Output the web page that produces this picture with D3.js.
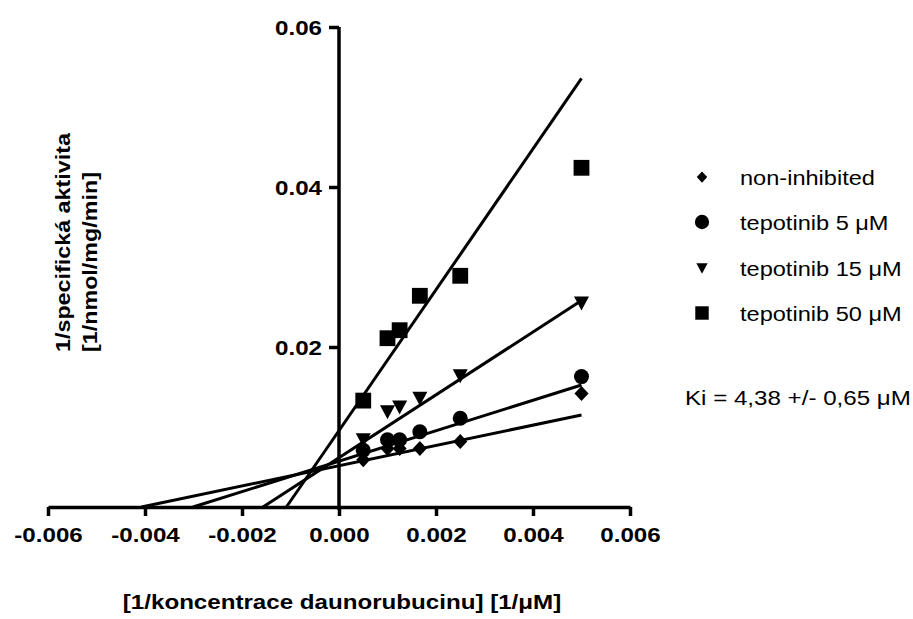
<!DOCTYPE html>
<html>
<head>
<meta charset="utf-8">
<style>
  body { margin: 0; background: #fff; }
  svg { display: block; font-family: "Liberation Sans", Arial, sans-serif; }
  .axis path, .axis line { stroke: #000; stroke-width: 3.5; }
  .fit { stroke: #000; stroke-width: 3; fill: none; }
</style>
<script src="https://cdn.jsdelivr.net/npm/d3@7"></script>
</head>
<body>
<svg id="chart" width="913" height="619"></svg>
<script>
// 1/[S] values (1/uM)
var xVals = [0.0005, 0.001, 0.00125, 0.001667, 0.0025, 0.005];
// 1/specific activity
var nonInhibited = [0.0059, 0.0073, 0.0073, 0.0073, 0.0082, 0.0142];
var tepo5  = [0.0071, 0.0084, 0.0084, 0.0094, 0.0111, 0.0163];
var tepo15 = [0.0084, 0.0119, 0.0125, 0.0136, 0.0164, 0.0255];
var tepo50 = [0.0133, 0.0211, 0.0221, 0.0264, 0.0289, 0.0424];
// linear fits (slope, intercept)
var fitSlopes = [1.267, 1.904, 3.929, 8.805];
var fitIntercepts = [0.00516, 0.00573, 0.00616, 0.00955];

var seriesNames = ["non-inhibited", "tepotinib 5 \u03bcM", "tepotinib 15 \u03bcM", "tepotinib 50 \u03bcM"];
var xTicks = [-0.006, -0.004, -0.002, 0, 0.002, 0.004, 0.006];
var yTicks = [0.02, 0.04, 0.06];
var kiText = "Ki = 4,38 +/- 0,65 \u03bcM";

var stretch = 1.15;
var svg = d3.select("#chart");

var x = d3.scaleLinear().domain([-0.006, 0.006]).range([48, 630]);
var y = d3.scaleLinear().domain([0, 0.06]).range([507, 27]);

// marker shapes
var shapes = [
  function(s) { return "M0," + (-7.5*s) + "L" + (7*s) + ",0L0," + (7.5*s) + "L" + (-7*s) + ",0Z"; },
  function(s) { return d3.symbol(d3.symbolCircle, 177*s*s)(); },
  function(s) { return "M" + (-7.5*s) + "," + (-6.5*s) + "L" + (7.5*s) + "," + (-6.5*s) + "L0," + (7.5*s) + "Z"; },
  function(s) { return d3.symbol(d3.symbolSquare, 250*s*s)(); }
];

// fit lines
var lines = svg.append("g");
fitSlopes.forEach(function(m, i) {
  var b = fitIntercepts[i];
  var x0 = -b / m, x1 = 0.005;
  lines.append("line").attr("class", "fit")
    .attr("x1", x(x0)).attr("y1", y(0))
    .attr("x2", x(x1)).attr("y2", y(b + m * x1));
});

// axes
var fmt3 = d3.format(".3f"), fmt2 = d3.format(".2f");
var gx = svg.append("g").attr("class", "axis")
  .attr("transform", "translate(0," + y(0) + ")")
  .call(d3.axisBottom(x).tickValues(xTicks).tickSize(9).tickSizeOuter(0).tickPadding(11)
    .tickFormat(function(d) { return fmt3(d).replace("\u2212", "-"); }));
gx.selectAll("text").attr("transform", "scale(" + stretch + ",1)")
  .style("font-size", "21px").style("font-weight", "bold").attr("fill", "#000");

var gy = svg.append("g").attr("class", "axis")
  .attr("transform", "translate(" + x(0) + ",0)")
  .call(d3.axisLeft(y).tickValues(yTicks).tickSize(10).tickSizeOuter(0).tickPadding(7)
    .tickFormat(fmt2));
gy.select(".domain").attr("d", "M0," + (y(0) + 3) + "V" + y(0.06));
gy.selectAll("text").attr("x", -17 / stretch).attr("dy", "0.38em")
  .attr("transform", "scale(" + stretch + ",1)")
  .style("font-size", "21px").style("font-weight", "bold").attr("fill", "#000");

// points
[nonInhibited, tepo5, tepo15, tepo50].forEach(function(vals, i) {
  svg.append("g").selectAll("path").data(vals).enter().append("path")
    .attr("d", shapes[i](1))
    .attr("transform", function(d, j) { return "translate(" + x(xVals[j]) + "," + y(d) + ")"; })
    .attr("fill", "#000");
});

// legend
var legY = [177, 222, 268, 313];
var legScale = [0.75, 0.95, 0.75, 0.85];
seriesNames.forEach(function(name, i) {
  svg.append("path").attr("d", shapes[i](legScale[i]))
    .attr("transform", "translate(702," + legY[i] + ")").attr("fill", "#000");
  svg.append("text").attr("transform", "translate(740," + (legY[i] + 7.5) + ") scale(" + stretch + ",1)")
    .style("font-size", "20.5px").attr("fill", "#000").text(name);
});
svg.append("text").attr("transform", "translate(685,405) scale(" + stretch + ",1)")
  .style("font-size", "21px").attr("fill", "#000").text(kiText);

// axis titles
svg.append("text").attr("transform", "translate(342,609) scale(" + stretch + ",1)")
  .attr("text-anchor", "middle").style("font-size", "21px").style("font-weight", "bold")
  .text("[1/koncentrace daunorubucinu] [1/\u03bcM]");
svg.append("text").attr("transform", "translate(70,352) rotate(-90) scale(1.11,1)")
  .style("font-size", "21px").style("font-weight", "bold")
  .text("1/specifick\u00e1 aktivita");
svg.append("text").attr("transform", "translate(97,352) rotate(-90) scale(1.11,1)")
  .style("font-size", "21px").style("font-weight", "bold")
  .text("[1/nmol/mg/min]");
</script>
</body>
</html>
